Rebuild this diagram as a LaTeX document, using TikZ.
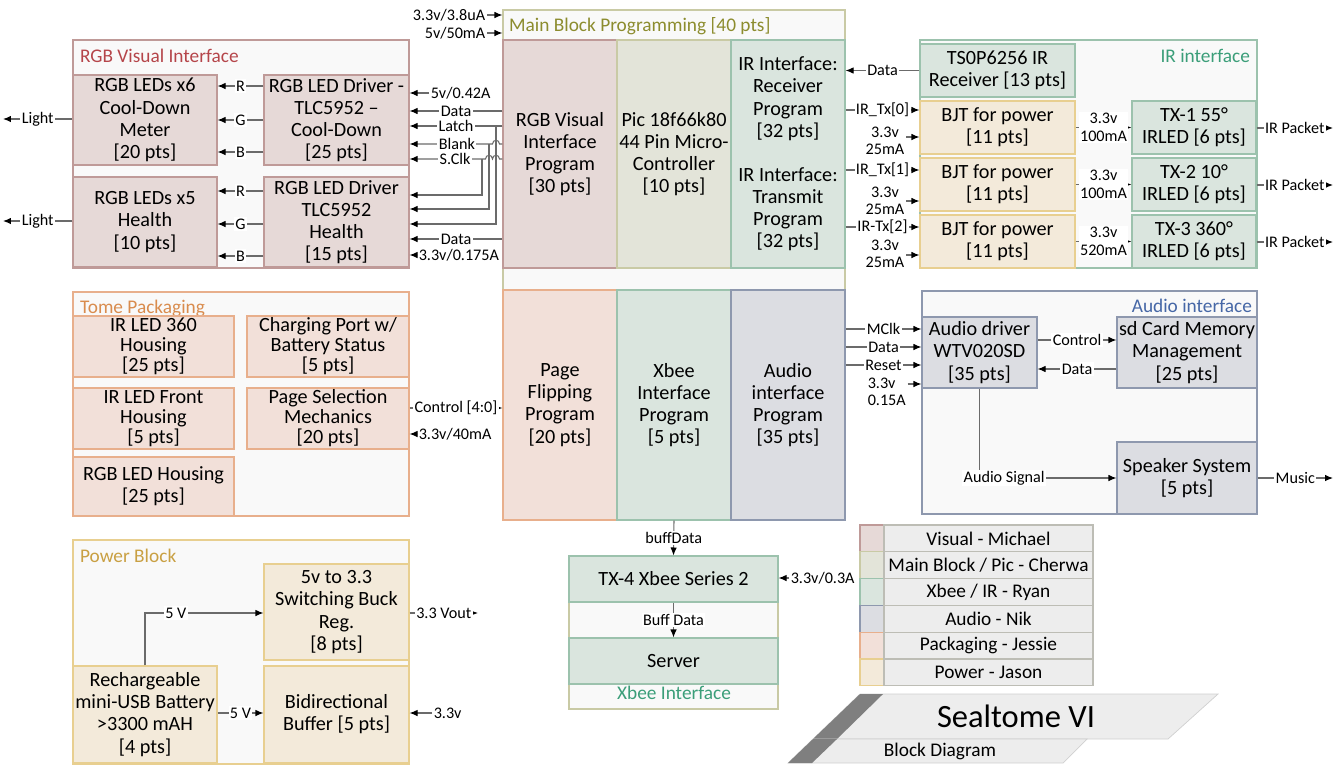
\documentclass[tikz,border=0pt]{standalone}
\usepackage{fontspec}
\setmainfont{Carlito}
\usetikzlibrary{calc}
\usetikzlibrary{arrows.meta}

\definecolor{visfill}{HTML}{E6D9D7}
\definecolor{visline}{HTML}{BF9A98}
\definecolor{vistext}{HTML}{B5454A}
\definecolor{mainfill}{HTML}{E3E4D9}
\definecolor{mainline}{HTML}{C9CAA5}
\definecolor{maintext}{HTML}{8C8C2E}
\definecolor{irfill}{HTML}{DAE5DE}
\definecolor{irline}{HTML}{9CC2AD}
\definecolor{irtext}{HTML}{3B9E79}
\definecolor{audfill}{HTML}{DCDDE2}
\definecolor{audline}{HTML}{8E98AE}
\definecolor{audtext}{HTML}{4667A6}
\definecolor{packfill}{HTML}{F2E0D9}
\definecolor{packline}{HTML}{E8AF8C}
\definecolor{packtext}{HTML}{D98C4E}
\definecolor{powfill}{HTML}{F3EADA}
\definecolor{powline}{HTML}{E8CF90}
\definecolor{powtext}{HTML}{C9A043}
\definecolor{legfill}{HTML}{EDEDED}
\definecolor{legline}{HTML}{BDBDB5}
\definecolor{grpfill}{HTML}{F9F9F9}
\definecolor{ttlfill}{HTML}{EDEDED}
\definecolor{ttlline}{HTML}{D0D0D0}
\definecolor{stripe}{HTML}{7F7F7F}
\definecolor{wirecol}{HTML}{6B6B6B}

\newcommand{\blkfont}{\fontsize{11.5}{12.6}\selectfont}
\newcommand{\hdrfont}{\fontsize{11}{12.6}\selectfont}
\newcommand{\tgfont}{\fontsize{9.2}{10}\selectfont}

\tikzset{
  span/.style args={#1,#2,#3,#4}{minimum width={(#3-#1)*0.02cm}, minimum height={(#4-#2)*0.02cm},
    at={({(#1+#3)/2},{(#2+#4)/2})}},
  grp/.style={draw=#1line, fill=grpfill, line width=0.6pt, inner sep=0pt},
  blk/.style={draw=#1line, fill=#1fill, line width=0.6pt, inner sep=0pt, align=center, font=\blkfont},
  tight/.style={font=\fontsize{11.5}{11.4}\selectfont},
  hdr/.style={text=#1text, font=\hdrfont, inner sep=1pt},
  wire/.style={draw=wirecol, line width=0.6pt},
  arr/.style={wire, -{Latex[length=1.6mm, width=1.3mm, color=black]}},
  tag/.style={font=\tgfont, fill=white, inner sep=0.8pt, align=center},
}

\begin{document}
\begin{tikzpicture}[x=0.02cm, y=-0.02cm]
\def\hp{3.5}
\useasboundingbox (0,0) rectangle (1334,772);

% groups
\node[grp=vis, span={73,40,409,268}] (gVis) {};
\node[hdr=vis, anchor=west] (hVis) at (78,56) {RGB Visual Interface};
\node[grp=main, span={503,10,845,520}] (gMain) {};
\node[hdr=main, anchor=west] (hMain) at (507,26) {Main Block Programming [40 pts]};
\node[grp=ir, span={920,40,1257,268}] (gIR) {};
\node[hdr=ir, anchor=east] (hIR) at (1252,56) {IR interface};
\node[grp=pack, span={73,292,409,516}] (gPack) {};
\node[hdr=pack, anchor=west] (hPack) at (78,308) {Tome Packaging};
\node[grp=aud, span={922,291,1257,514}] (gAud) {};
\node[hdr=aud, anchor=east] (hAud) at (1254,306) {Audio interface};
\node[grp=pow, span={73,540,409,764}] (gPow) {};
\node[hdr=pow, anchor=west] (hPow) at (78,556) {Power Block};
\node[grp=main, span={569,556,778,709}] (gXb) {};
\node[hdr=ir] (hXb) at (674,693) {Xbee Interface};

% RGB visual interface
\node[blk=vis, span={73,75,217,165}] (ledA) {RGB LEDs x6\\Cool-Down\\Meter\\{}[20 pts]};
\node[blk=vis, span={73,177,217,267}] (ledB) {RGB LEDs x5\\Health\\{}[10 pts]};
\node[blk=vis, span={264,75,409,165}] (drvA) {RGB LED Driver -\\TLC5952 –\\Cool-Down\\{}[25 pts]};
\node[blk=vis, span={264,177,409,267}] (drvB) {RGB LED Driver\\TLC5952\\Health\\{}[15 pts]};

% main block
\node[blk=vis, span={503,40,617,268}] (pRGB) {RGB Visual\\Interface\\Program\\{}[30 pts]};
\node[blk=main, span={617,40,731,268}] (pPic) {Pic 18f66k80\\44 Pin Micro-\\Controller\\{}[10 pts]};
\node[blk=ir, span={731,40,845,268}] (pIR) {IR Interface:\\Receiver\\Program\\{}[32 pts]\\[12.6pt]IR Interface:\\Transmit\\Program\\{}[32 pts]};
\node[blk=pack, span={503,290,617,520}] (pPage) {Page\\Flipping\\Program\\{}[20 pts]};
\node[blk=ir, span={617,290,731,520}] (pXb) {Xbee\\Interface\\Program\\{}[5 pts]};
\node[blk=aud, span={731,290,845,520}] (pAud) {Audio\\interface\\Program\\{}[35 pts]};

% IR interface
\node[blk=ir, span={920,44,1075,97}] (tsop) {TS0P6256 IR\\Receiver [13 pts]};
\node[blk=pow, span={920,101,1075,154}] (bjtA) {BJT for power\\{}[11 pts]};
\node[blk=pow, span={920,158,1075,211}] (bjtB) {BJT for power\\{}[11 pts]};
\node[blk=pow, span={920,215,1075,268}] (bjtC) {BJT for power\\{}[11 pts]};
\node[blk=ir, span={1132,101,1256,154}] (txA) {TX-1 55°\\IRLED [6 pts]};
\node[blk=ir, span={1132,158,1256,211}] (txB) {TX-2 10°\\IRLED [6 pts]};
\node[blk=ir, span={1132,215,1256,268}] (txC) {TX-3 360°\\IRLED [6 pts]};

% tome packaging
\node[blk=pack, tight, span={73,316,234,377}] (irl) {IR LED 360\\Housing\\{}[25 pts]};
\node[blk=pack, tight, span={247,316,409,377}] (chg) {Charging Port w/\\Battery Status\\{}[5 pts]};
\node[blk=pack, tight, span={73,388,234,449}] (irf) {IR LED Front\\Housing\\{}[5 pts]};
\node[blk=pack, tight, span={247,388,409,449}] (pgs) {Page Selection\\Mechanics\\{}[20 pts]};
\node[blk=pack, span={73,457,234,516}] (rgbh) {RGB LED Housing\\{}[25 pts]};

% audio interface
\node[blk=aud, span={922,317,1037,388}] (adrv) {Audio driver\\WTV020SD\\{}[35 pts]};
\node[blk=aud, span={1117,317,1257,388}] (sdc) {sd Card Memory\\Management\\{}[25 pts]};
\node[blk=aud, span={1117,442,1257,514}] (spk) {Speaker System\\{}[5 pts]};

% power block
\node[blk=pow, span={264,564,409,660}] (buck) {5v to 3.3\\Switching Buck\\Reg.\\{}[8 pts]};
\node[blk=pow, span={73,666,217,763}] (batt) {Rechargeable\\mini-USB Battery\\>3300 mAH\\{}[4 pts]};
\node[blk=pow, span={264,666,409,763}] (buf) {Bidirectional\\Buffer [5 pts]};

% xbee interface
\node[blk=ir, span={569,556,778,602}] (tx4) {TX-4 Xbee Series 2};
\node[blk=ir, span={569,638,778,684}] (srv) {Server};

% RGB wiring
\foreach \yy/\cc in {86/R, 120/G, 152/B}
  \draw[arr] (drvA.west |- 0,\yy) -- node[tag] {\cc} (ledA.east |- 0,\yy);
\foreach \yy/\cc in {191/R, 224/G, 256/B}
  \draw[arr] (drvB.west |- 0,\yy) -- node[tag] {\cc} (ledB.east |- 0,\yy);
\coordinate (lightA) at (3,119);
\coordinate (lightB) at (3,221);
\draw[arr] (ledA.west |- lightA) -- node[tag] {Light} (lightA);
\draw[arr] (ledB.west |- lightB) -- node[tag] {Light} (lightB);

\node[tag, anchor=west] (v042) at (429,93) {5v/0.42A};
\draw[arr] (v042.west) -- (drvA.east |- v042.west);
\draw[arr] (pRGB.west |- 0,111) -- node[tag] {Data} (drvA.east |- 0,111);
\draw[arr] (pRGB.west |- 0,126) -- node[tag] {Latch} (drvA.east |- 0,126);
\draw[arr] (pRGB.west |- 0,144) -- (496+\hp,144)
  .. controls (496+\hp,144-1.4*\hp) and (496-\hp,144-1.4*\hp) .. (496-\hp,144)
  -- node[tag, pos=0.43] {Blank} (drvA.east |- 0,144);
\draw[arr] (pRGB.west |- 0,159) -- (496+\hp,159)
  .. controls (496+\hp,159-1.4*\hp) and (496-\hp,159-1.4*\hp) .. (496-\hp,159)
  .. controls (489+\hp,159-1.4*\hp) and (489-\hp,159-1.4*\hp) .. (489-\hp,159)
  -- node[tag, pos=0.4] {S.Clk} (drvA.east |- 0,159);
\draw[arr] (482,159) |- (drvB.east |- 0,195);
\draw[arr] (489,144) |- (drvB.east |- 0,209);
\draw[arr] (496,126) |- (drvB.east |- 0,224);
\draw[arr] (pRGB.west |- 0,239) -- node[tag] {Data} (drvB.east |- 0,239);
\node[tag, anchor=west] (v0175) at (417,255) {3.3v/0.175A};
\draw[arr] (v0175.west) -- (drvB.east |- v0175.west);

% main block supply
\node[tag, anchor=east] (v38u) at (487,15) {3.3v/3.8uA};
\draw[arr] (v38u.east) -- (gMain.west |- v38u.east);
\node[tag, anchor=east] (v50m) at (487,33) {5v/50mA};
\draw[arr] (v50m.east) -- (gMain.west |- v50m.east);

% IR wiring
\draw[arr] (tsop.west) -- node[tag] {Data} (pIR.east |- tsop.west);
\draw[arr] (pIR.east |- 0,110) -- node[tag] {IR\_Tx[0]} (bjtA.west |- 0,110);
\draw[arr] (pIR.east |- 0,170) -- node[tag] {IR\_Tx[1]} (bjtB.west |- 0,170);
\draw[arr] (pIR.east |- 0,227) -- node[tag] {IR-Tx[2]} (bjtC.west |- 0,227);
\node[tag] (vTxA) at (885,141) {3.3v\\25mA};
\node[tag] (vTxB) at (885,201) {3.3v\\25mA};
\node[tag] (vTxC) at (885,254) {3.3v\\25mA};
\draw[arr] (vTxA.east |- 0,137) -- (bjtA.west |- 0,137);
\draw[arr] (vTxB.east |- 0,201) -- (bjtB.west |- 0,201);
\draw[arr] (vTxC.east |- 0,255) -- (bjtC.west |- 0,255);
\draw[arr] (bjtA.east) -- node[tag] {3.3v\\100mA} (txA.west);
\draw[arr] (bjtB.east) -- node[tag] {3.3v\\100mA} (txB.west);
\draw[arr] (bjtC.east) -- node[tag] {3.3v\\520mA} (txC.west);
\coordinate (pkA) at (1333,128);
\coordinate (pkB) at (1333,185);
\coordinate (pkC) at (1333,242);
\draw[arr] (txA.east |- pkA) -- node[tag] {IR Packet} (pkA);
\draw[arr] (txB.east |- pkB) -- node[tag] {IR Packet} (pkB);
\draw[arr] (txC.east |- pkC) -- node[tag] {IR Packet} (pkC);

% packaging wiring
\draw[arr] (pgs.east |- 0,408) -- node[tag] {Control [4:0]} (pPage.west |- 0,408);
\node[tag, anchor=west] (v40m) at (417,434) {3.3v/40mA};
\draw[arr] (v40m.west) -- (pgs.east |- v40m.west);

% audio wiring
\draw[arr] (pAud.east |- 0,329) -- node[tag] {MClk} (adrv.west |- 0,329);
\draw[arr] (pAud.east |- 0,347) -- node[tag] {Data} (adrv.west |- 0,347);
\draw[arr] (pAud.east |- 0,365) -- node[tag] {Reset} (adrv.west |- 0,365);
\node[tag, anchor=west, align=left] (vAud) at (866,392) {3.3v\\0.15A};
\draw[arr] (vAud.east |- 0,384) -- (adrv.west |- 0,384);
\draw[arr] (adrv.east |- 0,340) -- node[tag] {Control} (sdc.west |- 0,340);
\draw[arr] (sdc.west |- 0,369) -- node[tag] {Data} (adrv.east |- 0,369);
\draw[arr] (adrv.south) |- node[tag, pos=0.59] {Audio Signal} (spk.west);
\coordinate (music) at (1333,478);
\draw[arr] (spk.east) -- node[tag] {Music} (music);

% power wiring
\draw[arr] (batt.north -| 145,0) |- node[tag, pos=0.63] {5 V} (buck.west |- 0,613);
\draw[arr] (batt.east |- 0,713) -- node[tag] {5 V} (buf.west |- 0,713);
\coordinate (vout) at (478,613);
\draw[arr] (buck.east |- vout) -- node[tag] {3.3 Vout} (vout);
\node[tag, anchor=west] (v33b) at (432,713) {3.3v};
\draw[arr] (v33b.west) -- (buf.east |- v33b.west);

% xbee wiring
\draw[arr] (pXb.south) -- node[tag] {buffData} (tx4.north);
\draw[arr] (tx4.south) -- node[tag] {Buff Data} (srv.north);
\node[tag, anchor=west] (v03) at (789,578) {3.3v/0.3A};
\draw[arr] (v03.west) -- (tx4.east |- v03.west);

% legend
\foreach \clr/\who [count=\i from 0] in {vis/{Visual - Michael}, main/{Main Block / Pic - Cherwa},
    ir/{Xbee / IR - Ryan}, aud/{Audio - Nik}, pack/{Packaging - Jessie}, pow/{Power - Jason}} {
  \pgfmathsetmacro\ya{525+26.8*\i}
  \pgfmathsetmacro\yb{\ya+26.8}
  \node[blk=\clr, span={860,\ya,884,\yb}] (sw\i) {};
  \node[blk=leg, font=\hdrfont, span={884,\ya,1093,\yb}] (lg\i) {\who};
}

% title
\filldraw[fill=ttlfill, draw=ttlline] (860,694) -- (1218,694) -- (1168,739) -- (813,739) -- cycle;
\fill[stripe] (860,694) -- (883,694) -- (837,739) -- (813,739) -- cycle;
\filldraw[fill=ttlfill, draw=ttlline] (813,739) -- (1087,739) -- (1063,763) -- (788,763) -- cycle;
\fill[stripe] (813,739) -- (837,739) -- (812,763) -- (788,763) -- cycle;
\node[font=\fontsize{18.5}{21}\selectfont] (ttlMain) at (1016,716) {Sealtome VI};
\node[font=\hdrfont] (ttlSub) at (940,751) {Block Diagram};
\end{tikzpicture}
\end{document}
